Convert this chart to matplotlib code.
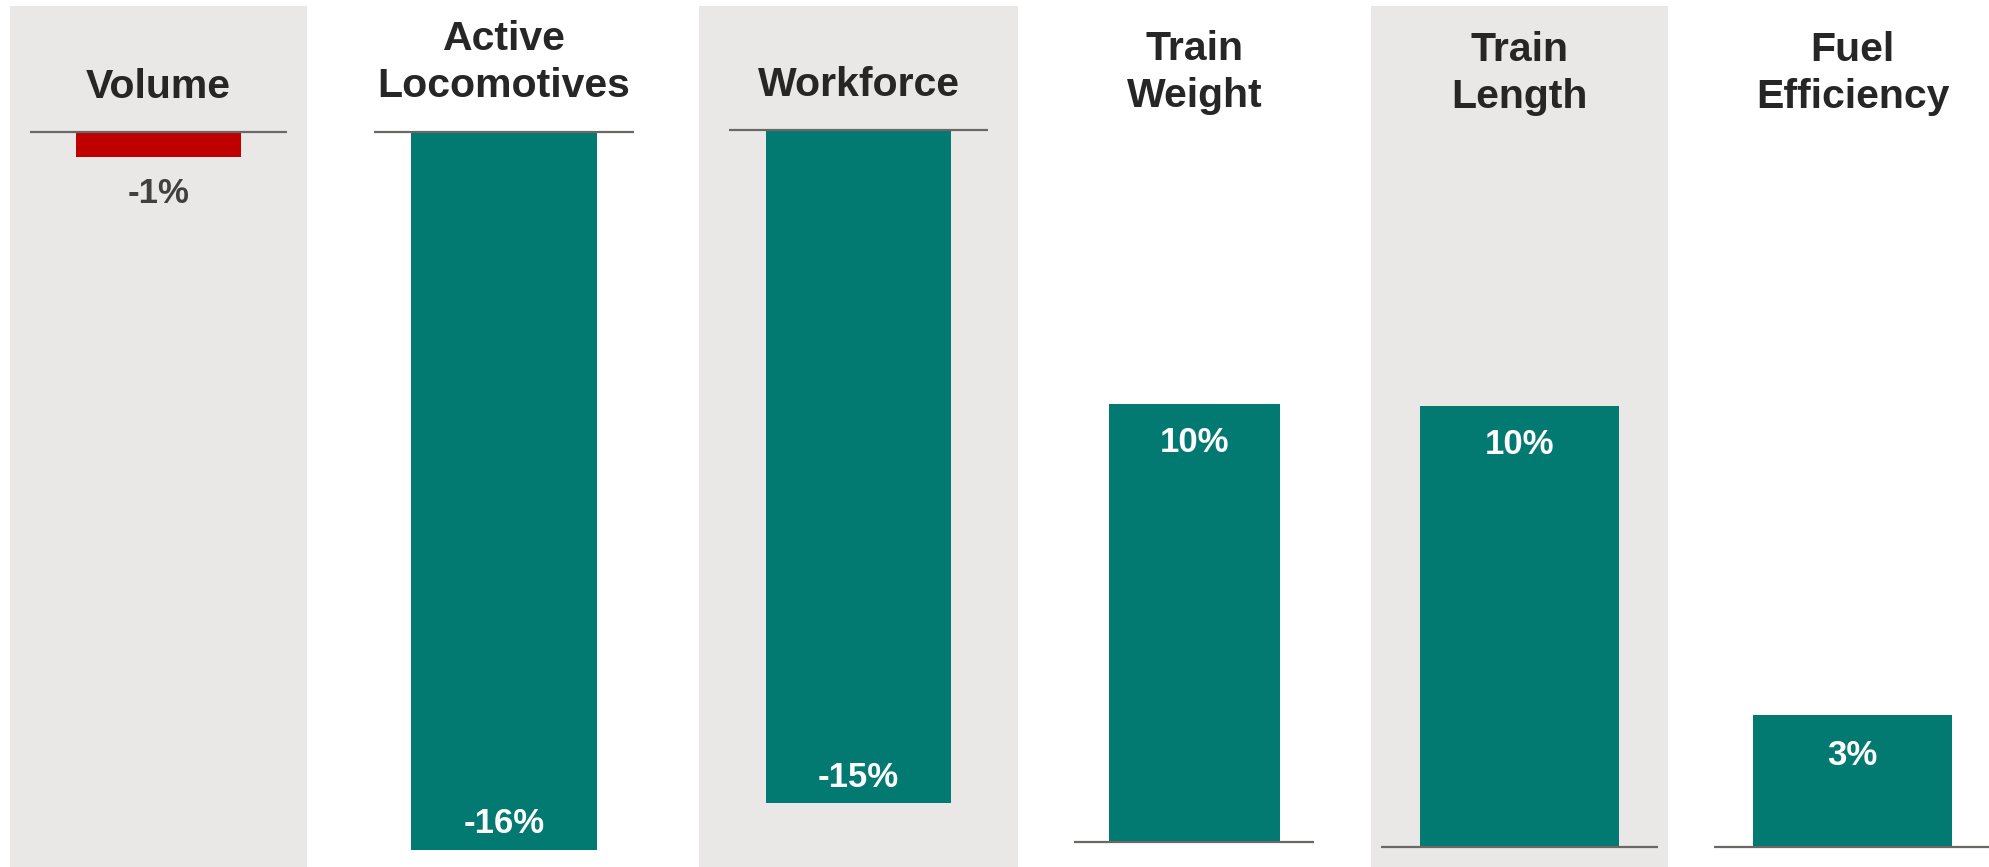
import matplotlib
matplotlib.use("Agg")
import matplotlib.pyplot as plt

plt.rcParams['font.family'] = ['Liberation Sans', 'DejaVu Sans']

# data
titles = ["Volume", "Active\nLocomotives", "Workforce", "Train\nWeight", "Train\nLength", "Fuel\nEfficiency"]
changes = [-0.56, -16.0, -15.0, 9.76, 9.83, 2.94]   # % change
labels = ["-1%", "-16%", "-15%", "10%", "10%", "3%"]

# layout, in pixels of the 1990x867 canvas
W, H = 1990, 867
PX_PER_PCT = 44.87
centers = [158.5, 504, 858.5, 1194.5, 1519.5, 1852.5]
bar_w = [165, 186, 186, 171, 199, 199]
line_half = [128.5, 130, 130, 120, 138.5, 139]
base_y = [132, 132, 130, 842, 847, 847]          # baseline, px from top
shade_half = [148.5, 0, 160, 0, 148.5, 0]         # grey column half width (0 = none)
title_y = [98, 50, 96, 60, 61, 61]               # first line baseline, px from top
label_dy = [-46, 17, 16, -48, -48, -50]          # label baseline vs bar end, px (up = +)
bar_colors = ["#C00000", "#027A71", "#027A71", "#027A71", "#027A71", "#027A71"]
label_colors = ["#404040", "white", "white", "white", "white", "white"]
SHADE = "#EAE8E6"
RULE = "#6B6764"
AXW = 360

fig = plt.figure(figsize=(W / 100, H / 100), dpi=100)

for i, (c, v, lab) in enumerate(zip(centers, changes, labels)):
    ax = fig.add_axes([(c - AXW / 2) / W, 0, AXW / W, 1])
    ax.set_xlim(-AXW / 2, AXW / 2)
    ax.set_ylim(-(H - base_y[i]) / PX_PER_PCT, base_y[i] / PX_PER_PCT)
    ax.axis('off')
    ax.patch.set_alpha(0)

    if shade_half[i]:
        ax.axvspan(-shade_half[i], shade_half[i], ymin=0, ymax=(H - 6) / H,
                   color=SHADE, lw=0, zorder=0)

    ax.bar(0, v, width=bar_w[i], color=bar_colors[i], zorder=2)
    ax.hlines(0, -line_half[i], line_half[i], color=RULE, lw=1.6, zorder=3)

    ax.annotate(lab, xy=(0, v), xytext=(0, label_dy[i]), textcoords='offset pixels',
                ha='center', va='baseline', fontsize=25, fontweight='bold',
                color=label_colors[i])

    # titles above each column
    for j, line in enumerate(titles[i].split("\n")):
        fig.text(c / W, 1 - (title_y[i] + j * 47) / H, line, ha='center', va='baseline',
                 fontsize=29.5, fontweight='bold', color='#262626')

fig.savefig("out.png", dpi=100, facecolor='white')
